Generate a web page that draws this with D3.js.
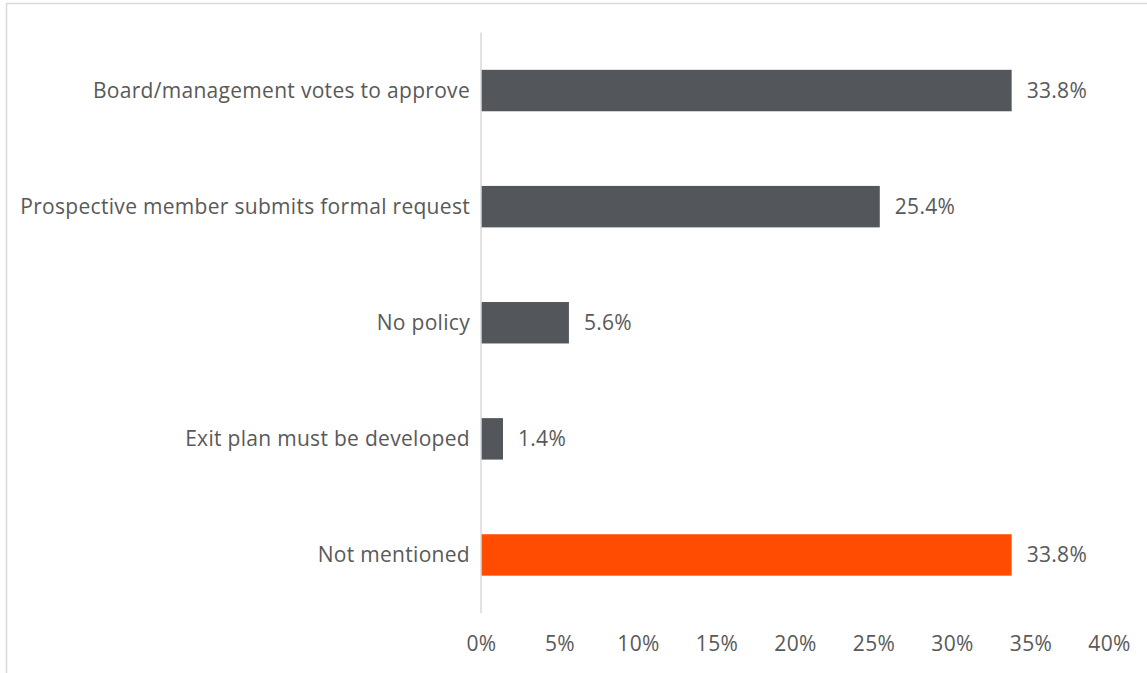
<!DOCTYPE html>
<html>
<head>
<meta charset="utf-8">
<script src="https://cdn.jsdelivr.net/npm/d3@7"></script>
<style>
  html, body { margin: 0; padding: 0; background: #ffffff; }
  svg { display: block; }
  text { font-family: "Open Sans", "Noto Sans", sans-serif; fill: #595959; letter-spacing: 0.3px; }
</style>
</head>
<body>
<svg id="chart" width="1147" height="673"></svg>
<script>
// Membership approval process categories and share of responses (%)
const categories = [
  "Board/management votes to approve",
  "Prospective member submits formal request",
  "No policy",
  "Exit plan must be developed",
  "Not mentioned"
];
const values = [33.8, 25.4, 5.6, 1.4, 33.8];
const highlighted = [false, false, false, false, true];
const xTicks = [0, 5, 10, 15, 20, 25, 30, 35, 40];

const svg = d3.select("#chart");
const FONT = 21;

// outer frame of the chart area
svg.append("rect")
  .attr("x", 6.5).attr("y", 3.5)
  .attr("width", 1300).attr("height", 1000)
  .attr("fill", "none")
  .attr("stroke", "#d9d9d9")
  .attr("stroke-width", 1.5);

const x = d3.scaleLinear().domain([0, 40]).range([481, 1109]);
const y = d3.scaleBand()
  .domain(categories)
  .range([32.5, 613])
  .paddingInner(0.643)
  .paddingOuter(0.3215);

// bars
svg.append("g").selectAll("rect")
  .data(values)
  .join("rect")
  .attr("x", x(0))
  .attr("y", (d, i) => y(categories[i]))
  .attr("width", d => x(d) - x(0))
  .attr("height", y.bandwidth())
  .attr("fill", (d, i) => highlighted[i] ? "#FF4C00" : "#53565A");

// vertical category axis line
svg.append("line")
  .attr("x1", x(0)).attr("x2", x(0))
  .attr("y1", 32.5).attr("y2", 613)
  .attr("stroke", "#d9d9d9")
  .attr("stroke-width", 1.5);

// category labels
svg.append("g").selectAll("text")
  .data(categories)
  .join("text")
  .attr("x", x(0) - 11)
  .attr("y", d => y(d) + y.bandwidth() / 2)
  .attr("dy", "0.35em")
  .attr("text-anchor", "end")
  .attr("font-size", FONT)
  .text(d => d);

// value labels
svg.append("g").selectAll("text")
  .data(values)
  .join("text")
  .attr("x", d => x(d) + 15)
  .attr("y", (d, i) => y(categories[i]) + y.bandwidth() / 2)
  .attr("dy", "0.35em")
  .attr("font-size", FONT)
  .text(d => d.toFixed(1) + "%");

// percentage axis
const xAxis = d3.axisBottom(x)
  .tickValues(xTicks)
  .tickFormat(d => d + "%")
  .tickSize(0)
  .tickPadding(0);
const gx = svg.append("g")
  .attr("transform", "translate(0,644)")
  .call(xAxis);
gx.select(".domain").remove();
gx.selectAll("text")
  .attr("font-size", FONT)
  .attr("dy", "0.35em")
  .attr("fill", "#595959")
  .style("font-family", "\"Open Sans\", \"Noto Sans\", sans-serif");
</script>
</body>
</html>
